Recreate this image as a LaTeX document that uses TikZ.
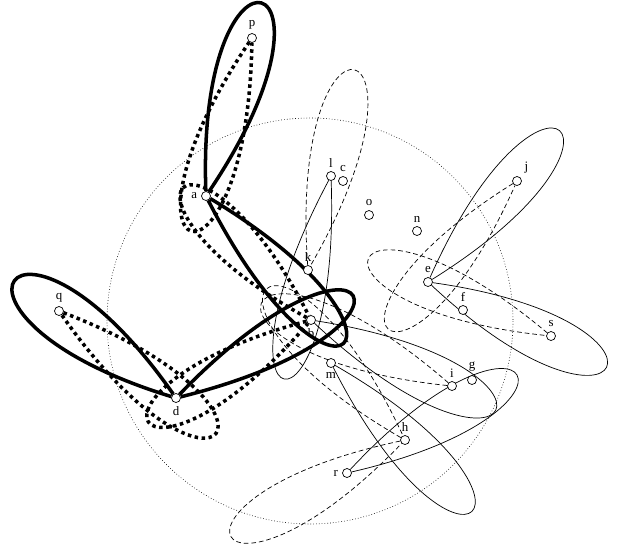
\documentclass[tikz,border=0pt]{standalone}
\usepackage{fontspec}
\setmainfont{Liberation Serif}
\usetikzlibrary{positioning}
\pgfdeclarelayer{bg}
\pgfsetlayers{bg,main}

\begin{document}
\begin{tikzpicture}[x=0.03cm, y=-0.03cm,
    every node/.style={font=\fontsize{11}{13}\selectfont},
    vtx/.style={draw, circle, fill=white, inner sep=0pt, minimum size=0.27cm, line width=0.6pt},
    heavy/.style={line width=3pt},
    heavydot/.style={line width=3pt, dash pattern=on 3pt off 3pt},
    thinline/.style={line width=0.6pt},
    thindash/.style={line width=0.6pt, dash pattern=on 4pt off 2.5pt},
    ring/.style={line width=0.5pt, dash pattern=on 0.6pt off 1.8pt}]
                    \useasboundingbox (0,0) rectangle (626,555);
                    % vertices
                    \node (p) [vtx, label={above:p}] at (252,38) {};
                    \node (a) [vtx, label={left:a}] at (206,196) {};
                    \node (l) [vtx, label={above:l}] at (331,176) {};
                    \node (c) [vtx, label={above:c}] at (343,181) {};
                    \node (o) [vtx, label={above:o}] at (369,215) {};
                    \node (n) [vtx, label={above:n}] at (417,231) {};
                    \node (k) [vtx, label={above:k}] at (308,270) {};
                    \node (j) [vtx, label={above right:j}] at (517,181) {};
                    \node (e) [vtx, label={above:e}] at (428,282) {};
                    \node (f) [vtx, label={above:f}] at (463,310) {};
                    \node (s) [vtx, label={above:s}] at (551,336) {};
                    \node (q) [vtx, label={above:q}] at (59,311) {};
                    \node (b) [vtx, label={below:b}] at (311,320) {};
                    \node (m) [vtx, label={below:m}] at (331,363) {};
                    \node (i) [vtx, label={above:i}] at (452,386) {};
                    \node (g) [vtx, label={above:g}] at (472,380) {};
                    \node (d) [vtx, label={below:d}] at (176,398) {};
                    \node (h) [vtx, label={above:h}] at (405,440) {};
                    \node (r) [vtx, label={left:r}] at (347,473) {};
                    \begin{pgfonlayer}{bg}
                    \draw[ring] (310,321) circle [radius=203];
                    % thick loops
                    \draw[heavy] (a) .. controls +(-92:280) and +(-56:280) .. (a);
                    \draw[heavy] (a) .. controls +(31:278) and +(63:278) .. (a);
                    \draw[heavy] (d) .. controls +(235:280) and +(197:280) .. (d);
                    \draw[heavy] (d) .. controls +(-46:282) and +(-14:282) .. (d);
                    % thick dotted loops
                    \draw[heavydot] (p) .. controls +(124:280) and +(91:280) .. (p);
                    \draw[heavydot] (b) .. controls +(209:255) and +(243:255) .. (b);
                    \draw[heavydot] (q) .. controls +(21:276) and +(55:276) .. (q);
                    \draw[heavydot] (b) .. controls +(165:266) and +(131:266) .. (b);
                    % thin loops
                    \draw[thinline] (l) .. controls +(118:286) and +(88:286) .. (l);
                    \draw[thinline] (e) .. controls +(-66:278) and +(-32:278) .. (e);
                    \draw[thinline] (e) .. controls +(8:275) and +(43:275) .. (e);
                    \draw[thinline] (b) .. controls +(9:285) and +(43:285) .. (b);
                    \draw[thinline] (m) .. controls +(30:283) and +(63:283) .. (m);
                    \draw[thinline] (r) .. controls +(-47:272) and +(-13:272) .. (r);
                    % dashed loops
                    \draw[thindash] (k) .. controls +(-94:285) and +(-60:285) .. (k);
                    \draw[thindash] (j) .. controls +(148:272) and +(114:272) .. (j);
                    \draw[thindash] (s) .. controls +(220:275) and +(186:275) .. (s);
                    \draw[thindash] (h) .. controls +(168:276) and +(134:276) .. (h);
                    \draw[thindash] (i) .. controls +(186:289) and +(221:289) .. (i);
                    \draw[thindash] (h) .. controls +(210:285) and +(245:285) .. (h);
                    \end{pgfonlayer}
                \end{tikzpicture}
\end{document}
